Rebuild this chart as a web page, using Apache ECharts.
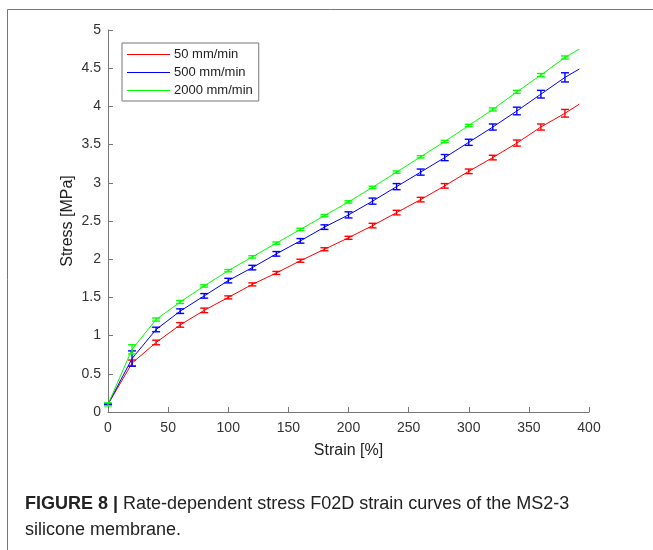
<!DOCTYPE html>
<html>
<head>
<meta charset="utf-8">
<script src="https://cdn.jsdelivr.net/npm/echarts@6/dist/echarts.min.js"></script>
<style>
html,body{margin:0;padding:0;background:#fff;}
#chart{width:653px;height:550px;}
</style>
</head>
<body>
<div id="chart"></div>
<script>
// ---- data ----
const strain = [0,20,40,60,80,100,120,140,160,180,200,220,240,260,280,300,320,340,360,380];
const endStrain = 392;
const red   = [0.10,0.64,0.91,1.14,1.33,1.50,1.67,1.82,1.98,2.13,2.28,2.44,2.61,2.78,2.96,3.15,3.33,3.52,3.73,3.91];
const redEnd = 4.03;
const blue  = [0.10,0.70,1.08,1.32,1.52,1.72,1.89,2.07,2.24,2.42,2.58,2.76,2.95,3.14,3.33,3.53,3.73,3.94,4.16,4.38];
const blueEnd = 4.49;
const green = [0.10,0.82,1.21,1.44,1.65,1.85,2.03,2.21,2.39,2.57,2.75,2.94,3.14,3.34,3.54,3.75,3.96,4.19,4.41,4.64];
const greenEnd = 4.75;
const redErr   = [0,0.04,0.03,0.03,0.03,0.02,0.02,0.02,0.02,0.02,0.02,0.03,0.03,0.03,0.03,0.03,0.03,0.04,0.04,0.05];
const blueErr  = [0,0.10,0.03,0.03,0.03,0.03,0.03,0.03,0.03,0.03,0.04,0.04,0.04,0.04,0.04,0.04,0.04,0.05,0.05,0.06];
const greenErr = [0.02,0.06,0.02,0.02,0.015,0.015,0.015,0.015,0.015,0.015,0.015,0.015,0.015,0.015,0.015,0.015,0.02,0.02,0.02,0.02];
const seriesNames = ['50 mm/min','500 mm/min','2000 mm/min'];
const xTicks = {min:0, max:400, interval:50};
const yTicks = {min:0, max:5, interval:0.5};

const colors = ['#ff0000','#0000ff','#00ff00'];
const means = [red, blue, green];
const ends = [redEnd, blueEnd, greenEnd];
const errs = [redErr, blueErr, greenErr];

const font = '"Liberation Sans", Arial, Helvetica, sans-serif';

function lineData(i){
  const d = strain.map((s,k)=>[s, means[i][k]]);
  d.push([endStrain, ends[i]]);
  return d;
}
function errData(i){
  return strain.map((s,k)=>[s, means[i][k]-errs[i][k], means[i][k]+errs[i][k]]);
}
function errRender(color){
  return function(params, api){
    const x = api.value(0), lo = api.value(1), hi = api.value(2);
    const a = api.coord([x, lo]), b = api.coord([x, hi]);
    const hw = 4;
    const st = {stroke: color, lineWidth: 1.4};
    return {type:'group', children:[
      {type:'line', shape:{x1:a[0],y1:a[1],x2:b[0],y2:b[1]}, style:st},
      {type:'line', shape:{x1:a[0]-hw,y1:a[1],x2:a[0]+hw,y2:a[1]}, style:st},
      {type:'line', shape:{x1:b[0]-hw,y1:b[1],x2:b[0]+hw,y2:b[1]}, style:st}
    ]};
  };
}

const series = [];
for (let i=0;i<3;i++){
  series.push({
    name: seriesNames[i], type:'line', data: lineData(i), showSymbol:false, symbol:'none',
    lineStyle:{color:colors[i], width:1}, itemStyle:{color:colors[i]}, z: 2+i, animation:false
  });
}
for (let i=0;i<3;i++){
  series.push({
    name: 'err'+i, type:'custom', data: errData(i), renderItem: errRender(colors[i]),
    encode:{x:0, y:[1,2]}, z: 5+i, animation:false
  });
}

const chart = echarts.init(document.getElementById('chart'), null, {renderer:'canvas'});
chart.setOption({
  animation:false,
  backgroundColor:'#fff',
  grid:{left:108, right:64, top:30, bottom:138, containLabel:false},
  xAxis:{
    type:'value', min:xTicks.min, max:xTicks.max, interval:xTicks.interval,
    name:'Strain [%]', nameLocation:'middle', nameGap:31, nameMoveOverlap:false,
    nameTextStyle:{fontFamily:font, fontSize:16, color:'#222'},
    axisLine:{show:true, lineStyle:{color:'#777', width:1}},
    axisTick:{show:true, inside:true, length:5, lineStyle:{color:'#777'}},
    axisLabel:{fontFamily:font, fontSize:14, color:'#333', margin:9},
    splitLine:{show:false}
  },
  yAxis:{
    type:'value', min:yTicks.min, max:yTicks.max, interval:yTicks.interval,
    name:'Stress [MPa]', nameLocation:'middle', nameGap:32, nameRotate:90, nameMoveOverlap:false,
    nameTextStyle:{fontFamily:font, fontSize:16, color:'#222'},
    axisLine:{show:true, lineStyle:{color:'#777', width:1}},
    axisTick:{show:true, inside:true, length:5, lineStyle:{color:'#777'}},
    axisLabel:{fontFamily:font, fontSize:14, color:'#333', margin:7},
    splitLine:{show:false}
  },
  legend:{
    data: seriesNames.map((n,i)=>({name:n, icon:'rect', itemStyle:{color:colors[i]}})),
    orient:'vertical', left:122, top:43, itemWidth:43, itemHeight:1.2, itemGap:5,
    padding:[5,6,4,5], backgroundColor:'#fff', borderColor:'#777', borderWidth:1, borderRadius:0,
    textStyle:{fontFamily:font, fontSize:13, color:'#222', padding:[0,0,0,-1]},
    selectedMode:false
  },
  graphic:[
    {type:'line', shape:{x1:7.5,y1:9.5,x2:653,y2:9.5}, style:{stroke:'#777', lineWidth:1}},
    {type:'line', shape:{x1:7.5,y1:9.5,x2:7.5,y2:550}, style:{stroke:'#777', lineWidth:1}},
    {type:'text', left:25, top:495, style:{
      text:'{b|FIGURE 8 |} Rate-dependent stress F02D strain curves of the MS2-3',
      rich:{b:{fontWeight:'bold', fontFamily:font, fontSize:18, fill:'#222'}},
      fontFamily:font, fontSize:18, fill:'#222'}},
    {type:'text', left:25, top:521, style:{text:'silicone membrane.', fontFamily:font, fontSize:18, fill:'#222'}}
  ],
  series: series
});
</script>
</body>
</html>
